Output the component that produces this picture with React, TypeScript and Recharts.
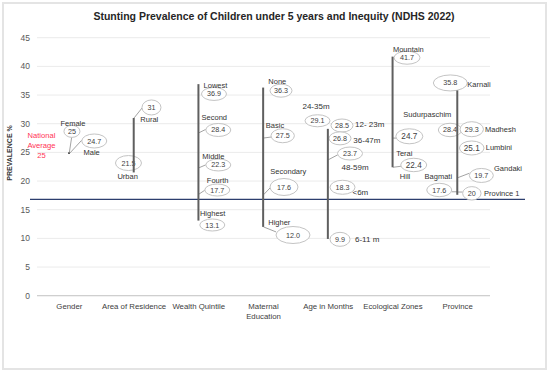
import React from "react";
import {
  ComposedChart,
  Bar,
  Scatter,
  XAxis,
  YAxis,
  CartesianGrid,
  ReferenceLine,
} from "recharts";

// ---------- DATA ----------
const categories = [
  "Gender",
  "Area of Residence",
  "Wealth Quintile",
  "Maternal Education",
  "Age in Months",
  "Ecological Zones",
  "Province",
];
const categoryTickLabels = [
  "Gender",
  "Area of Residence",
  "Wealth Quintile",
  "Maternal\nEducation",
  "Age in Months",
  "Ecological Zones",
  "Province",
];

const genderGroups = ["Female", "Male"];
const genderValues = [25, 24.7];
const residenceGroups = ["Rural", "Urban"];
const residenceValues = [31, 21.5];
const wealthGroups = ["Lowest", "Second", "Middle", "Fourth", "Highest"];
const wealthValues = [36.9, 28.4, 22.3, 17.7, 13.1];
const educationGroups = ["None", "Basic", "Secondary", "Higher"];
const educationValues = [36.3, 27.5, 17.6, 12.0];
const ageGroups = ["24-35m", "12- 23m", "36-47m", "48-59m", "<6m", "6-11 m"];
const ageValues = [29.1, 28.5, 26.8, 23.7, 18.3, 9.9];
const ecoGroups = ["Mountain", "Terai", "Hill"];
const ecoValues = [41.7, 24.7, 22.4];
const provinceGroups = ["Karnali", "Sudurpaschim", "Madhesh", "Lumbini", "Gandaki", "Province 1", "Bagmati"];
const provinceValues = [35.8, 28.4, 29.3, 25.1, 19.7, 20, 17.6];

const nationalAverage = 25;
const referenceLevel = 16.8;
const yTicks = [0, 5, 10, 15, 20, 25, 30, 35, 40, 45];

const groupNames = [genderGroups, residenceGroups, wealthGroups, educationGroups, ageGroups, ecoGroups, provinceGroups];
const groupValues = [genderValues, residenceValues, wealthValues, educationValues, ageValues, ecoValues, provinceValues];

const rangeData = categories.map((cat, i) => ({
  cat,
  range: [Math.min(...groupValues[i]), Math.max(...groupValues[i])],
}));

const calloutPoints = categories.flatMap((cat, i) =>
  groupNames[i].map((name, j) => ({ x: i + 0.5, value: groupValues[i][j], name }))
);
const nationalPoint = [{ x: 0.5, value: nationalAverage, name: "National Average" }];

// ---------- CALLOUT LAYOUT (offsets from the data point, px) ----------
type L = {
  ex: number; ey: number; rx: number; ry: number;
  nx: number; ny: number; anchor?: "start" | "middle" | "end";
  leader?: number[]; vs?: number; ns?: number; text?: string;
};
const layout: Record<string, L> = {
  Female: { ex: 2.6, ey: -21, rx: 8, ry: 6, nx: 3.6, ny: -29.4, leader: [0, 0, 2.3, -15] },
  Male: { ex: 24.9, ey: -13.1, rx: 12.5, ry: 7, nx: 22.3, ny: -1.4, leader: [0.5, -1, 12.5, -14] },
  Rural: { ex: 17.4, ey: -10.5, rx: 9.5, ry: 7.5, nx: 15.2, ny: 1.3, leader: [0, 0, 8, -10] },
  Urban: { ex: -5.6, ey: -9.4, rx: 13, ry: 7.5, nx: -6.4, ny: 3.6 },
  Lowest: { ex: 15.2, ey: 9.8, rx: 12.5, ry: 6.5, nx: 16.7, ny: 1.5 },
  Second: { ex: 19.5, ey: -2.9, rx: 12.5, ry: 6.5, nx: 15.5, ny: -15.2, leader: [0, 0, 7, -3.5] },
  Middle: { ex: 19.5, ey: -2.9, rx: 12.5, ry: 6, nx: 14.5, ny: -11.9, leader: [0, 0, 7, -3] },
  Fourth: { ex: 18.5, ey: -4.2, rx: 12.5, ry: 6, nx: 18.9, ny: -14.2, leader: [0, 0, 6, -4] },
  Highest: { ex: 13.5, ey: 4.4, rx: 12.5, ry: 6, nx: 13.9, ny: -7.3 },
  None: { ex: 17.5, ey: 3.1, rx: 11, ry: 6.5, nx: 13.8, ny: -6.6 },
  Basic: { ex: 19.2, ey: -2.3, rx: 11.7, ry: 7, nx: 11.5, ny: -13, leader: [0, 0, 7.5, -1] },
  Secondary: { ex: 20.5, ey: -7.8, rx: 14, ry: 8.5, nx: 24.8, ny: -23.8, leader: [0, 0, 6.5, -6.8] },
  Higher: { ex: 29.5, ey: 8.1, rx: 17, ry: 8.5, nx: 15.8, ny: -4.2, leader: [0, 0, 12.5, 5], text: "12.0" },
  "24-35m": { ex: -10.7, ey: -8.1, rx: 12.5, ry: 6, nx: -12.2, ny: -22.9, ns: 8 },
  "12- 23m": { ex: 13.8, ey: -6.8, rx: 11, ry: 6.5, nx: 26.8, ny: -8.3, anchor: "start", ns: 8 },
  "36-47m": { ex: 11.8, ey: -3.7, rx: 11, ry: 6.5, nx: 25.1, ny: -2, anchor: "start", ns: 8 },
  "48-59m": { ex: 21.8, ey: -6.3, rx: 12.5, ry: 6.5, nx: 26.8, ny: 6.9, leader: [0, 0, 9.5, -5], ns: 8 },
  "<6m": { ex: 14.3, ey: -3.5, rx: 12.5, ry: 7, nx: 24.3, ny: 1.2, anchor: "start", ns: 8 },
  "6-11 m": { ex: 11.8, ey: 0.4, rx: 10, ry: 7, nx: 26.8, ny: 0.1, anchor: "start", ns: 8 },
  Mountain: { ex: 14.1, ey: 1.1, rx: 13, ry: 6.5, nx: 15.4, ny: -7.6 },
  Terai: { ex: 16.4, ey: -17.8, rx: 13.5, ry: 7.5, nx: 11.4, ny: -0.8, leader: [0, -16, 3.5, -16], vs: 8.2 },
  Hill: { ex: 20.8, ey: -2.3, rx: 13, ry: 6.7, nx: 12.1, ny: 9.4, leader: [0, 0, 8, -1], vs: 8.2 },
  Karnali: { ex: -7.3, ey: -7.5, rx: 17, ry: 8, nx: 9.7, ny: -6.2, anchor: "start" },
  Sudurpaschim: { ex: -7.6, ey: -2.9, rx: 11.7, ry: 6.7, nx: -30.3, ny: -18.9 },
  Madhesh: { ex: 14.1, ey: 1.5, rx: 11.7, ry: 7.5, nx: 27.4, ny: 1.6, anchor: "start" },
  Lumbini: { ex: 14.1, ey: -3.8, rx: 12.3, ry: 7, nx: 28.1, ny: -4.1, anchor: "start", vs: 8.2 },
  Gandaki: { ex: 23.7, ey: -7.3, rx: 12, ry: 7, nx: 36.4, ny: -14.5, anchor: "start", leader: [0, -5, 11.7, -9.5] },
  "Province 1": { ex: 14.2, ey: 12.3, rx: 9.2, ry: 6.7, nx: 26.4, ny: 12.3, anchor: "start", leader: [0, 11, 5, 11] },
  Bagmati: { ex: -18.4, ey: -4.8, rx: 12.5, ry: 6.7, nx: -19.3, ny: -18.8, leader: [0, -3, -6, -3] },
};

const Callout = (props: any) => {
  const { cx, cy, payload } = props;
  if (cx == null || cy == null || !payload) return <g />;
  const c = layout[payload.name];
  if (!c) return <g />;
  const txt = c.text ?? String(payload.value);
  return (
    <g>
      {c.leader && (
        <line
          x1={cx + c.leader[0]}
          y1={cy + c.leader[1]}
          x2={cx + c.leader[2]}
          y2={cy + c.leader[3]}
          stroke="#8c8c8c"
          strokeWidth={0.8}
        />
      )}
      <ellipse cx={cx + c.ex} cy={cy + c.ey} rx={c.rx} ry={c.ry} fill="#ffffff" stroke="#c4c4c4" strokeWidth={1} />
      <text
        x={cx + c.ex}
        y={cy + c.ey}
        dy="0.35em"
        textAnchor="middle"
        fontSize={c.vs ?? 7.2}
        fill="#404040"
      >
        {txt}
      </text>
      <text
        x={cx + c.nx}
        y={cy + c.ny}
        dy="0.35em"
        textAnchor={c.anchor ?? "middle"}
        fontSize={c.ns ?? 7.5}
        fill="#333333"
      >
        {payload.name}
      </text>
    </g>
  );
};

const NationalLabel = (props: any) => {
  const { cx, cy, payload } = props;
  if (cx == null || cy == null || !payload) return <g />;
  const x = cx - 27.9;
  return (
    <g>
      <text x={x} y={cy - 17.4} dy="0.35em" textAnchor="middle" fontSize={7.6} fill="#ff3355">National</text>
      <text x={x} y={cy - 6.9} dy="0.35em" textAnchor="middle" fontSize={7.6} fill="#ff3355">Average</text>
      <text x={x} y={cy + 3.1} dy="0.35em" textAnchor="middle" fontSize={7.6} fill="#ff3355">
        {String(payload.value)}
      </text>
    </g>
  );
};

const XTick = (props: any) => {
  const { x, y, payload } = props;
  const idx = categories.indexOf(payload.value);
  const lines = (idx >= 0 ? categoryTickLabels[idx] : String(payload.value)).split("\n");
  return (
    <text x={x} y={y + 11} textAnchor="middle" fontSize={7.8} fill="#404040">
      {lines.map((l, k) => (
        <tspan key={k} x={x} dy={k === 0 ? "0.35em" : 10}>
          {l}
        </tspan>
      ))}
    </text>
  );
};

export default function App() {
  return (
    <div
      style={{
        position: "absolute",
        left: 0,
        top: 0,
        width: 553,
        height: 372,
        background: "#ffffff",
        fontFamily: "'Liberation Sans', Arial, sans-serif",
      }}
    >
      <div
        style={{
          position: "absolute",
          left: 2,
          top: 2,
          width: 545,
          height: 368,
          border: "2px solid #e4e4e4",
          boxSizing: "border-box",
        }}
      />
      <div
        style={{
          position: "absolute",
          left: 0,
          top: 9,
          width: 548,
          textAlign: "center",
          fontSize: 10.5,
          lineHeight: "14px",
          fontWeight: "bold",
          color: "#262626",
        }}
      >
        Stunting Prevalence of Children under 5 years and Inequity (NDHS 2022)
      </div>
      <div style={{ position: "absolute", left: 0, top: 0 }}>
        <ComposedChart
          width={553}
          height={372}
          data={rangeData}
          margin={{ top: 37.7, right: 63, bottom: 46.3, left: 0 }}
        >
          <CartesianGrid vertical={false} stroke="#ebebeb" />
          <XAxis
            dataKey="cat"
            type="category"
            allowDuplicatedCategory={false}
            height={30}
            tickLine={false}
            tickSize={0}
            tickMargin={0}
            axisLine={{ stroke: "#c8c8c8" }}
            tick={<XTick />}
            interval={0}
          />
          <XAxis xAxisId="num" dataKey="x" type="number" domain={[0, 7]} hide />
          <YAxis
            width={37}
            domain={[0, 45]}
            ticks={yTicks}
            axisLine={false}
            tickLine={false}
            tickSize={0}
            tickMargin={7}
            tick={{ fontSize: 8.5, fill: "#595959" }}
            label={{
              content: () => (
                <text
                  x={10}
                  y={153}
                  transform="rotate(-90 10 153)"
                  textAnchor="middle"
                  dy="0.35em"
                  fontSize={7}
                  fontWeight="bold"
                  fill="#333333"
                >
                  PREVALENCE %
                </text>
              ),
            }}
          />
          <ReferenceLine
            y={referenceLevel}
            shape={(p: any) => (
              <line
                x1={(p.x1 ?? 37) - 7}
                x2={(p.x2 ?? 490) + 35}
                y1={p.y1}
                y2={p.y2}
                stroke="#2c3e6e"
                strokeWidth={1.4}
              />
            )}
          />
          <Scatter
            data={calloutPoints}
            dataKey="value"
            xAxisId="num"
            shape={<Callout />}
            isAnimationActive={false}
          />
          <Scatter
            data={nationalPoint}
            dataKey="value"
            xAxisId="num"
            shape={<NationalLabel />}
            isAnimationActive={false}
          />
          <Bar dataKey="range" barSize={2} fill="#5f5f5f" isAnimationActive={false} {...({ zIndex: 700 } as any)} />
        </ComposedChart>
      </div>
    </div>
  );
}
